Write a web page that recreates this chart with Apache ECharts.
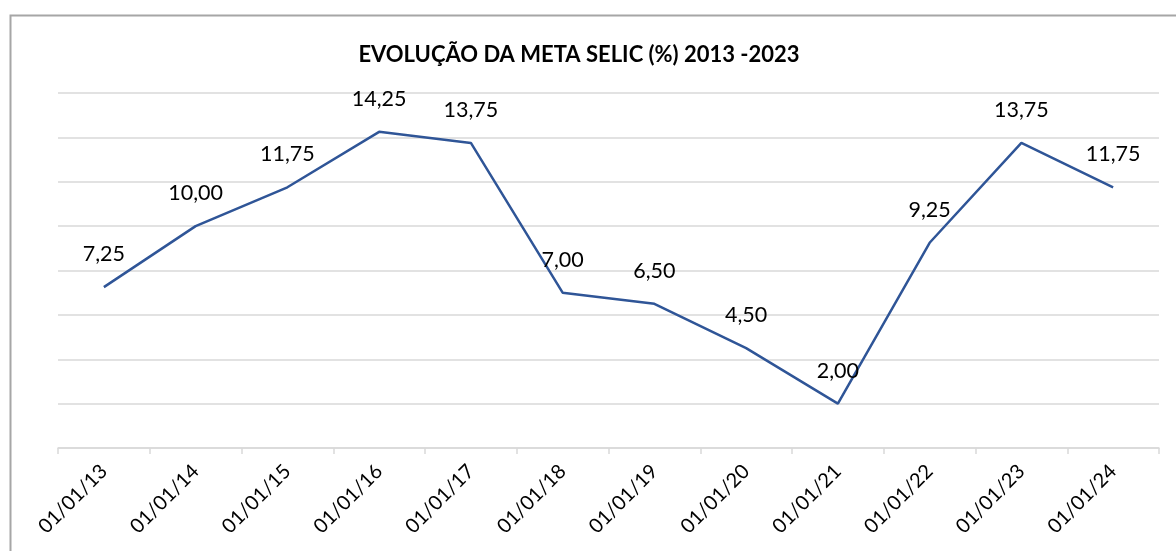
<!DOCTYPE html>
<html>
<head>
<meta charset="utf-8">
<script src="https://cdn.jsdelivr.net/npm/echarts@6/dist/echarts.min.js"></script>
<style>
  html, body { margin: 0; padding: 0; background: #fff; }
  #chart { width: 1176px; height: 551px; }
</style>
</head>
<body>
<div id="chart"></div>
<script>
// dados da meta selic
var datas = ['01/01/13', '01/01/14', '01/01/15', '01/01/16', '01/01/17', '01/01/18',
             '01/01/19', '01/01/20', '01/01/21', '01/01/22', '01/01/23', '01/01/24'];
var selic = [7.25, 10.00, 11.75, 14.25, 13.75, 7.00, 6.50, 4.50, 2.00, 9.25, 13.75, 11.75];

var chart = echarts.init(document.getElementById('chart'));

var option = {
    animation: false,
    textStyle: { fontFamily: 'Lato' },
    graphic: [{
        type: 'rect',
        left: 8, top: 13,
        shape: { width: 1190, height: 570 },
        style: { fill: 'none', stroke: '#a6a6a6', lineWidth: 2 }
    }],
    title: {
        text: 'EVOLUÇÃO DA META SELIC (%) 2013 -2023',
        left: 574,
        top: 39,
        textAlign: 'center',
        textStyle: { fontFamily: 'Lato', fontWeight: 'bold', fontSize: 22, color: '#000' }
    },
    grid: { left: 58, right: 17, top: 93, bottom: 103 },
    xAxis: {
        type: 'category',
        data: datas,
        boundaryGap: true,
        axisLine: { lineStyle: { color: '#d9d9d9', width: 1.5 } },
        axisTick: { show: true, length: 6, lineStyle: { color: '#d9d9d9', width: 1.5 } },
        axisLabel: { rotate: 45, margin: 20, fontSize: 20, color: '#000', fontFamily: 'Lato', interval: 0 }
    },
    yAxis: {
        type: 'value',
        min: 0, max: 16, interval: 2,
        axisLabel: { show: false },
        axisLine: { show: false },
        axisTick: { show: false },
        splitLine: { lineStyle: { color: '#d9d9d9', width: 1.5 } }
    },
    series: [{
        type: 'line',
        data: selic,
        symbol: 'circle',
        symbolSize: 2,
        showSymbol: true,
        itemStyle: { color: 'rgba(47,85,151,0)' },
        lineStyle: { color: '#2f5597', width: 2.5 },
        label: {
            show: true,
            position: 'top',
            distance: 21,
            fontSize: 21.5,
            color: '#000',
            opacity: 1,
            fontFamily: 'Lato',
            formatter: function (p) { return p.value.toFixed(2).replace('.', ','); }
        }
    }]
};

chart.setOption(option);
</script>
</body>
</html>
